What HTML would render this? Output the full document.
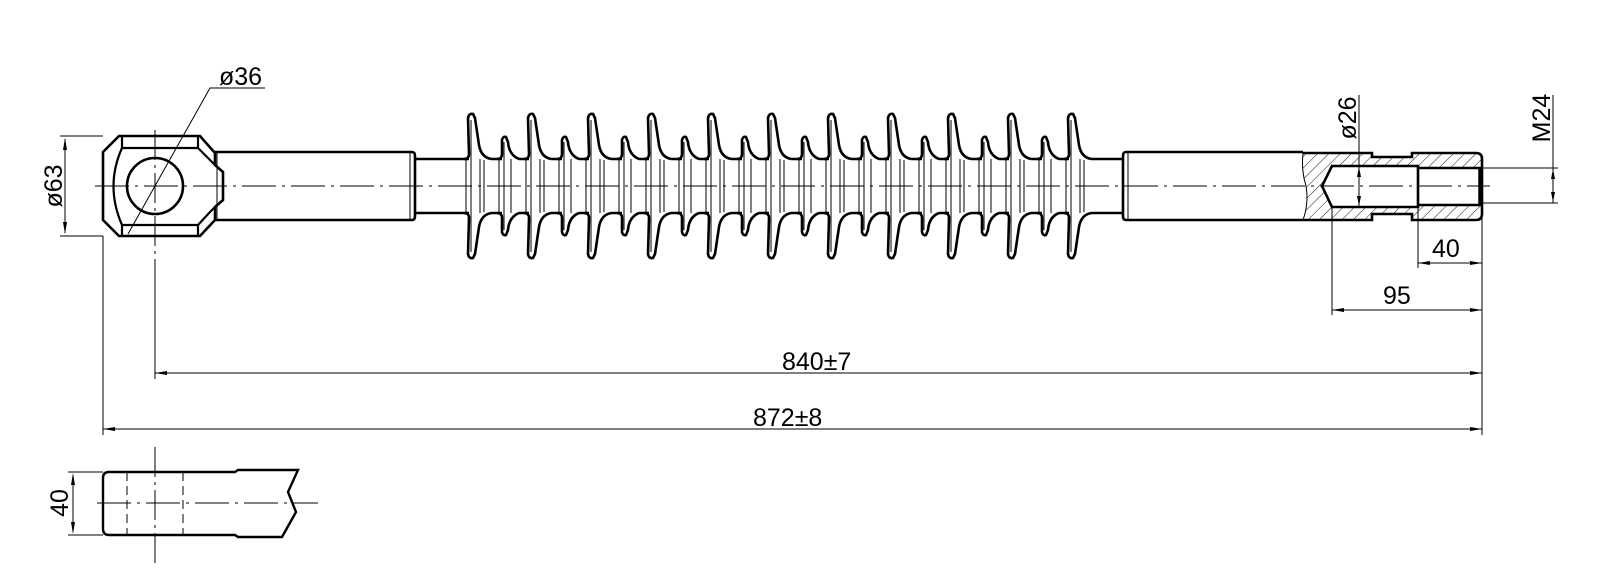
<!DOCTYPE html>
<html><head><meta charset="utf-8"><style>html,body{margin:0;padding:0;background:#fff}svg{display:block}</style></head>
<body>
<svg width="1600" height="584" viewBox="0 0 1600 584" xmlns="http://www.w3.org/2000/svg" font-family="'Liberation Sans', 'DejaVu Sans', sans-serif">
<defs>
<pattern id="h" width="8" height="8" patternUnits="userSpaceOnUse" patternTransform="rotate(45)">
<line x1="0" y1="0" x2="0" y2="8" stroke="#000" stroke-width="0.9"/>
</pattern>
<g id="big">
<path d="M-1,159 L-2,118 Q-1,113 3,114 L5,118 L9,145 Q11,157 21,159 Z M-1,213 L-2,254 Q-1,259 3,258 L5,254 L9,227 Q11,215 21,213 Z M-1,159 L21,159 L21,213 L-1,213 Z" fill="#fff"/>
<path d="M-6,159 Q-1,159 -1,154 L-2,118 Q-1,113 3,114 L5,118 L9,145 Q11,157 21,159 M-6,213 Q-1,213 -1,218 L-2,254 Q-1,259 3,258 L5,254 L9,227 Q11,215 21,213" fill="none" stroke="#000" stroke-width="2.6"/>
<path d="M1,120 L1,252 M-4,159 L-4,213 M10,159 L10,213 M14,160 L14,212" stroke="#000" stroke-width="1" fill="none"/>
</g>
<g id="small">
<path d="M0,159 L0,140 Q1,136 4,137 L6,142 Q7,155 17,159 Z M0,213 L0,232 Q1,236 4,235 L6,230 Q7,217 17,213 Z M0,159 L17,159 L17,213 L0,213 Z" fill="#fff"/>
<path d="M-5,159 Q0,159 0,154 L0,140 Q1,136 4,137 L6,142 Q7,155 17,159 M-5,213 Q0,213 0,218 L0,232 Q1,236 4,235 L6,230 Q7,217 17,213" fill="none" stroke="#000" stroke-width="2.6"/>
<path d="M2,142 L2,230 M-3,159 L-3,213 M9,159 L9,213" stroke="#000" stroke-width="1" fill="none"/>
</g>
</defs>

<!-- core rod -->
<path d="M415,159 L1123,159 M415,213 L1123,213" stroke="#000" stroke-width="2.6"/>
<!-- left shank -->
<path d="M215,152 L412,152 Q415,152 415,156 L415,216 Q415,220 412,220 L215,220" fill="none" stroke="#000" stroke-width="2.6"/>
<line x1="410" y1="153" x2="410" y2="219" stroke="#000" stroke-width="1"/>
<!-- right shank -->
<path d="M1303,152 L1126,152 Q1123,152 1123,156 L1123,216 Q1123,220 1126,220 L1303,220" fill="none" stroke="#000" stroke-width="2.6"/>
<line x1="1128" y1="153" x2="1128" y2="219" stroke="#000" stroke-width="1"/>

<!-- sheds -->
<use href="#big" x="470"/><use href="#big" x="530"/><use href="#big" x="590"/><use href="#big" x="650"/><use href="#big" x="710"/><use href="#big" x="770"/><use href="#big" x="830"/><use href="#big" x="890"/><use href="#big" x="950"/><use href="#big" x="1010"/><use href="#big" x="1070"/>
<use href="#small" x="502"/><use href="#small" x="562"/><use href="#small" x="622"/><use href="#small" x="682"/><use href="#small" x="742"/><use href="#small" x="802"/><use href="#small" x="862"/><use href="#small" x="922"/><use href="#small" x="982"/><use href="#small" x="1042"/>

<!-- left eye head -->
<path d="M119,136 L200,136 L215,153 L215,165 L223,172 L223,200 L215,207 L215,220 L200,236 L119,236 L103,220 L103,152 Z" fill="#fff" stroke="#000" stroke-width="2.6"/>
<path d="M122,136 L122,148 L198,148 L198,136 M122,236 L122,225 L198,225 L198,236 M122,148 Q105,186 122,225 M198,148 L210,160 L215,165 M198,225 L210,212 L215,207" fill="none" stroke="#000" stroke-width="2.2"/>
<line x1="217" y1="153" x2="217" y2="220" stroke="#000" stroke-width="1"/>
<circle cx="155" cy="186" r="28" fill="none" stroke="#000" stroke-width="2.6"/>

<!-- right section -->
<path d="M1303,153 L1372,153 L1372,157 L1412,157 L1412,153 L1476,153 Q1482,153 1482,159 L1482,214 Q1482,220 1476,220 L1412,220 L1412,214 L1372,214 L1372,220 L1303,220 Q1309,203 1306,186 Q1301,170 1303,153 Z M1332,166 L1418,166 L1418,168 L1482,168 L1482,205 L1418,205 L1418,207 L1332,207 L1322,186 Z" fill="url(#h)" fill-rule="evenodd"/>
<path d="M1303,153 L1372,153 L1372,157 L1412,157 L1412,153 L1476,153 Q1482,153 1482,159 L1482,214 Q1482,220 1476,220 L1412,220 L1412,214 L1372,214 L1372,220 L1303,220" fill="none" stroke="#000" stroke-width="2.6"/>
<path d="M1303,153 Q1301,170 1306,186 Q1309,203 1303,220" fill="none" stroke="#000" stroke-width="1"/>
<path d="M1332,166 L1418,166 L1418,207 L1332,207 L1322,186 Z M1418,168 L1482,168 M1418,205 L1482,205" fill="none" stroke="#000" stroke-width="2.6"/>
<line x1="1480" y1="168" x2="1480" y2="205" stroke="#000" stroke-width="3.5"/>

<!-- centerlines -->
<line x1="95" y1="186" x2="1490" y2="186" stroke="#000" stroke-width="1" stroke-dasharray="34,6,3,6"/>
<line x1="155" y1="130" x2="155" y2="260" stroke="#000" stroke-width="1" stroke-dasharray="30,5,3,5"/>

<!-- dims thin -->
<g stroke="#000" stroke-width="1" fill="none">
<path d="M60,136 L103,136 M60,236 L103,236 M65,139 L65,233"/>
<path d="M128,234 L210,88 L265,88"/>
<path d="M103,236 L103,435 M155,260 L155,379"/>
<path d="M1482,205 L1482,435 M1332,207 L1332,315 M1418,205 L1418,268"/>
<path d="M155,373 L1482,373 M103,429 L1482,429"/>
<path d="M1418,263 L1482,263 M1332,310 L1482,310"/>
<path d="M1359,95 L1359,207 M1359,168 L1359,205"/>
<path d="M1482,168 L1558,168 M1482,203 L1558,203 M1553,95 L1553,203"/>
</g>
<g fill="#000">
<path d="M65,138 l-2,12 l4,0 z M65,234 l-2,-12 l4,0 z"/>
<path d="M1482,373 l-12,-2 l0,4 z M155,373 l12,-2 l0,4 z M1482,429 l-12,-2 l0,4 z M103,429 l12,-2 l0,4 z"/>
<path d="M1418,263 l12,-2 l0,4 z M1482,263 l-12,-2 l0,4 z M1332,310 l12,-2 l0,4 z M1482,310 l-12,-2 l0,4 z"/>
<path d="M1359,167 l-2,10 l4,0 z M1359,206 l-2,-10 l4,0 z"/>
<path d="M1553,169 l-2,10 l4,0 z M1553,202 l-2,-10 l4,0 z"/>
</g>

<!-- texts -->
<g font-size="25" fill="#000">
<text x="219" y="85">ø36</text>
<text x="782" y="370">840±7</text>
<text x="753" y="426">872±8</text>
<text x="1432" y="257">40</text>
<text x="1383" y="304">95</text>
<text transform="translate(62,186) rotate(-90)" text-anchor="middle">ø63</text>
<text transform="translate(1356,118) rotate(-90)" text-anchor="middle">ø26</text>
<text transform="translate(1550,118) rotate(-90)" text-anchor="middle">M24</text>
<text transform="translate(68,503) rotate(-90)" text-anchor="middle">40</text>
</g>

<!-- bottom view -->
<path d="M235,472 L109,472 Q103,472 103,478 L103,529 Q103,535 109,535 L235,535 L238,537 L282,537 L296,512 L288,492 L298,470 L238,470 Z" fill="none" stroke="#000" stroke-width="2.4"/>
<g stroke="#000" stroke-width="1" fill="none">
<path d="M68,472 L103,472 M68,535 L103,535 M73,475 L73,532"/>
<line x1="127" y1="472" x2="127" y2="535" stroke-dasharray="9,5"/>
<line x1="183" y1="472" x2="183" y2="535" stroke-dasharray="9,5"/>
<line x1="155" y1="447" x2="155" y2="565" stroke-dasharray="30,5,3,5"/>
<line x1="97" y1="503" x2="318" y2="503" stroke-dasharray="34,6,3,6"/>
</g>
<g fill="#000"><path d="M73,473 l-2,12 l4,0 z M73,534 l-2,-12 l4,0 z"/></g>
</svg>
</body></html>
